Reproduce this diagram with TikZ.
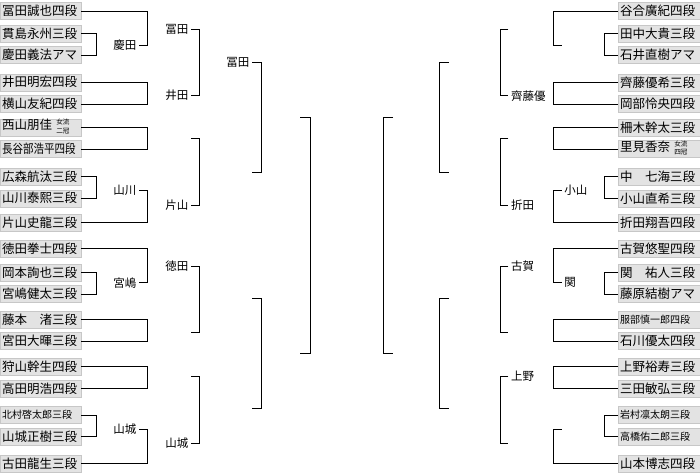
\documentclass[tikz,border=0pt]{standalone}
\usepackage{fontspec}
\usepackage{graphicx}
\newfontfamily\jp{Noto Sans CJK JP}
\newcommand{\twoby}[2]{\raisebox{0.3pt}{\fontsize{6.6}{8.2}\selectfont\begin{tabular}[c]{@{}c@{}}#1\\#2\end{tabular}}}
\newcommand{\smallname}[1]{{\fontsize{10}{12}\selectfont #1}}
\newcommand{\narrow}[1]{\scalebox{0.84}[1]{#1}}
\tikzset{
  pbox/.style={draw=black!22, fill=black!11, minimum height=17pt, inner ysep=0pt, inner xsep=2pt,
    text width=77pt, align=left, anchor=west, font=\jp\fontsize{12.5}{14}\selectfont},
  rbox/.style={pbox, text width=78pt},
  wlab/.style={font=\jp\fontsize{11.5}{13}\selectfont, inner xsep=2.5pt, inner ysep=1pt},
  br/.style={line width=1pt, black},
}
\begin{document}
\begin{tikzpicture}[x=1pt,y=-1pt]
\useasboundingbox (0,0) rectangle (700,474);
% left entrants
\foreach \i/\y/\t in {
  1/11/冨田誠也四段, 2/33.3/貫島永州三段, 3/55/慶田義法アマ, 4/82.3/井田明宏四段,
  5/104/横山友紀四段, 6/127.3/{西山朋佳 \twoby{女流}{二冠}}, 7/149/{\narrow{長谷部浩平四段}},
  8/176.7/広森航汰三段, 9/198.3/山川泰熙三段, 10/222.7/片山史龍三段, 11/248.3/徳田拳士四段,
  12/272.7/岡本詢也三段, 13/294/宮嶋健太三段, 14/319.3/藤本　渚三段, 15/341/宮田大暉三段,
  16/366.7/狩山幹生四段, 17/388.3/高田明浩四段, 18/415/{\smallname{北村啓太郎三段}},
  19/436.7/山城正樹三段, 20/463.3/古田龍生三段}
  \node[pbox] (L\i) at (0,\y) {\t};
% right entrants
\foreach \i/\y/\t in {
  1/11/谷合廣紀四段, 2/33.3/田中大貴三段, 3/55/石井直樹アマ, 4/82.3/齊藤優希三段,
  5/104/岡部怜央四段, 6/127.3/柵木幹太三段, 7/149/{里見香奈 \twoby{女流}{四冠}},
  8/176.7/中　七海三段, 9/198.3/小山直希三段, 10/222.7/折田翔吾四段, 11/248.3/古賀悠聖四段,
  12/272.7/関　祐人三段, 13/294/藤原結樹アマ, 14/319.3/{\smallname{服部慎一郎四段}},
  15/341/石川優太四段, 16/366.7/上野裕寿三段, 17/388.3/三田敏弘三段,
  18/415/{\smallname{岩村凛太朗三段}}, 19/436.7/{\smallname{高橋佑二郎三段}}, 20/463.3/山本博志四段}
  \node[rbox] (R\i) at (618,\y) {\t};

% x levels
\coordinate (xa) at (96.3,0);  \coordinate (xb) at (147.3,0);
\coordinate (xc) at (199.7,0); \coordinate (xd) at (261.7,0);
\coordinate (xe) at (310.7,0);
\coordinate (ya) at (604,0);   \coordinate (yb) at (553.3,0);
\coordinate (yc) at (500.7,0); \coordinate (yd) at (439.3,0);
\coordinate (ye) at (383.3,0);

% left winner labels
\node[wlab, anchor=east] (kL)  at (139,45)    {慶田};
\node[wlab, anchor=east] (yL)  at (139,190)   {山川};
\node[wlab, anchor=east] (mL)  at (139,282.7) {宮嶋};
\node[wlab, anchor=east] (sL)  at (139,429.3) {山城};
\node[wlab, anchor=east] (tL3) at (191,29)    {冨田};
\node[wlab, anchor=east] (iL)  at (191,95.7)  {井田};
\node[wlab, anchor=east] (kaL) at (191,205)   {片山};
\node[wlab, anchor=east] (toL) at (191,266)   {徳田};
\node[wlab, anchor=east] (s3L) at (191,443.3) {山城};
\node[wlab, anchor=east] (t4L) at (252,62.3)  {冨田};
\coordinate (f1) at (191,138.3);
\coordinate (f2) at (191,332.3);
\coordinate (f3) at (191,376);
\coordinate (f4) at (252,172.3);
\coordinate (f5) at (252,298.3);
\coordinate (f6) at (252,408.3);
\coordinate (f7) at (300,117.3);
\coordinate (f8) at (300,353.3);

% right winner labels
\node[wlab, anchor=west] (koR) at (561.7,190)   {小山};
\node[wlab, anchor=west] (seR) at (561.7,282.7) {関};
\node[wlab, anchor=west] (saR) at (508.3,95.7)  {齊藤優};
\node[wlab, anchor=west] (orR) at (508.3,205)   {折田};
\node[wlab, anchor=west] (kgR) at (508.3,266)   {古賀};
\node[wlab, anchor=west] (uR)  at (508.3,376)   {上野};
\coordinate (g1) at (561.7,45);
\coordinate (g2) at (561.7,429.3);
\coordinate (g3) at (508.3,29);
\coordinate (g4) at (508.3,138.3);
\coordinate (g5) at (508.3,332.3);
\coordinate (g6) at (508.3,443.3);
\coordinate (g7) at (449,62.3);
\coordinate (g8) at (449,172.3);
\coordinate (g9) at (449,298.3);
\coordinate (g10) at (449,408.3);
\coordinate (g11) at (393,117.3);
\coordinate (g12) at (393,353.3);

% left level 1
\foreach \a/\b in {2/3, 8/9, 12/13, 18/19}
  \draw[br] (L\a.east) -| (xa |- L\b.east) -- (L\b.east);
% left level 2
\draw[br] (L1.east) -| (xb |- kL.east) -- (kL.east);
\draw[br] (L4.east) -| (xb |- L5.east) -- (L5.east);
\draw[br] (L6.east) -| (xb |- L7.east) -- (L7.east);
\draw[br] (yL.east) -| (xb |- L10.east) -- (L10.east);
\draw[br] (L11.east) -| (xb |- mL.east) -- (mL.east);
\draw[br] (L14.east) -| (xb |- L15.east) -- (L15.east);
\draw[br] (L16.east) -| (xb |- L17.east) -- (L17.east);
\draw[br] (sL.east) -| (xb |- L20.east) -- (L20.east);
% left level 3
\draw[br] (tL3.east) -| (xc |- iL.east) -- (iL.east);
\draw[br] (f1) -| (xc |- kaL.east) -- (kaL.east);
\draw[br] (toL.east) -| (xc |- f2) -- (f2);
\draw[br] (f3) -| (xc |- s3L.east) -- (s3L.east);
% left level 4
\draw[br] (t4L.east) -| (xd |- f4) -- (f4);
\draw[br] (f5) -| (xd |- f6) -- (f6);
% left level 5
\draw[br] (f7) -| (xe |- f8) -- (f8);

% right level 1
\foreach \a/\b in {2/3, 8/9, 12/13, 18/19}
  \draw[br] (R\a.west) -| (ya |- R\b.west) -- (R\b.west);
% right level 2
\draw[br] (R1.west) -| (yb |- g1) -- (g1);
\draw[br] (R4.west) -| (yb |- R5.west) -- (R5.west);
\draw[br] (R6.west) -| (yb |- R7.west) -- (R7.west);
\draw[br] (koR.west) -| (yb |- R10.west) -- (R10.west);
\draw[br] (R11.west) -| (yb |- seR.west) -- (seR.west);
\draw[br] (R14.west) -| (yb |- R15.west) -- (R15.west);
\draw[br] (R16.west) -| (yb |- R17.west) -- (R17.west);
\draw[br] (g2) -| (yb |- R20.west) -- (R20.west);
% right level 3
\draw[br] (g3) -| (yc |- saR.west) -- (saR.west);
\draw[br] (g4) -| (yc |- orR.west) -- (orR.west);
\draw[br] (kgR.west) -| (yc |- g5) -- (g5);
\draw[br] (uR.west) -| (yc |- g6) -- (g6);
% right level 4
\draw[br] (g7) -| (yd |- g8) -- (g8);
\draw[br] (g9) -| (yd |- g10) -- (g10);
% right level 5
\draw[br] (g11) -| (ye |- g12) -- (g12);
\end{tikzpicture}
\end{document}
